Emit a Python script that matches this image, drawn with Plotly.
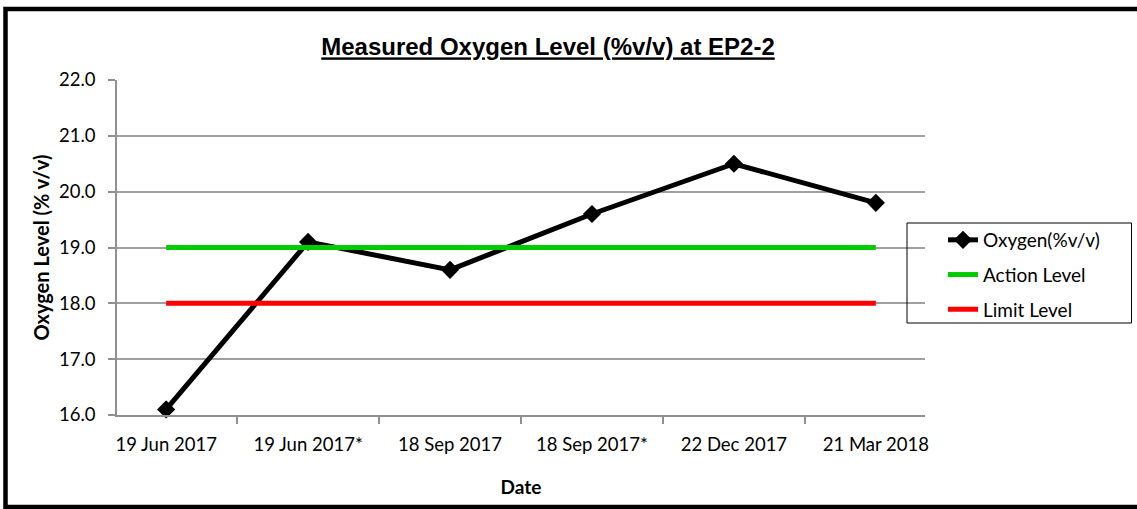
import plotly.graph_objects as go

dates = ["19 Jun 2017", "19 Jun 2017*", "18 Sep 2017", "18 Sep 2017*", "22 Dec 2017", "21 Mar 2018"]
oxygen = [16.1, 19.1, 18.6, 19.6, 20.5, 19.8]
action_level = [19.0] * len(dates)
limit_level = [18.0] * len(dates)

W, H = 1137, 509
L, R, T, B = 117, 212, 80, 94
pw, ph = W - L - R, H - T - B

def px_x(x):
    return (x - L) / pw

def px_y(y):
    return 1 - (y - T) / ph

fig = go.Figure()
fig.add_trace(go.Scatter(
    x=dates, y=oxygen, name="Oxygen(%v/v)", mode="lines+markers",
    line=dict(color="black", width=5),
    marker=dict(symbol="diamond", size=14, color="black"),
    legendgroup="a", cliponaxis=False,
))
fig.add_trace(go.Scatter(
    x=dates, y=action_level, name="Action Level", mode="lines",
    line=dict(color="#00CC00", width=5), legendgroup="b",
))
fig.add_trace(go.Scatter(
    x=dates, y=limit_level, name="Limit Level", mode="lines",
    line=dict(color="#FF0000", width=5), legendgroup="c",
))

font_main = "Lato, Carlito, 'Open Sans', sans-serif"

fig.update_layout(
    width=W, height=H,
    margin=dict(l=L, r=R, t=T, b=B, pad=0),
    paper_bgcolor="white", plot_bgcolor="white",
    font=dict(family=font_main, size=18.5, color="black"),
    title=dict(
        text="<b><u>Measured Oxygen Level (%v/v) at EP2-2</u></b>",
        x=px_x(548), xanchor="center", xref="paper",
        y=1 - 47 / H, yanchor="middle",
        font=dict(family="Liberation Sans, Arial, sans-serif", size=24, color="black"),
    ),
    showlegend=True,
    legend=dict(
        x=px_x(943), xanchor="left", y=px_y(221), yanchor="top",
        bgcolor="rgba(0,0,0,0)", borderwidth=0,
        traceorder="grouped", tracegroupgap=7,
        font=dict(family=font_main, size=19, color="black"),
    ),
    xaxis=dict(
        type="category", tickson="boundaries",
        showline=True, linecolor="#909090", linewidth=1.5,
        ticks="outside", ticklen=7, tickcolor="#909090", tickwidth=1.5,
        ticklabelstandoff=12,
        showgrid=False, zeroline=False,
        tickfont=dict(size=18.5, family=font_main),
        title=dict(text="<b>Date</b>", font=dict(size=19, family=font_main), standoff=27),
    ),
    yaxis=dict(
        range=[16, 22], dtick=1, tickformat=".1f",
        showline=True, linecolor="#909090", linewidth=1.5,
        ticks="outside", ticklen=7, tickcolor="#909090", tickwidth=1.5,
        ticklabelstandoff=9,
        showgrid=True, gridcolor="#A0A0A0", gridwidth=1.5,
        zeroline=False,
        tickfont=dict(size=18.5, family=font_main),
        title=dict(text="<b>Oxygen Level (% v/v)</b>", font=dict(size=20, family=font_main), standoff=4),
    ),
    shapes=[
        dict(type="rect", xref="paper", yref="paper",
             x0=px_x(5.5), x1=px_x(1145), y0=px_y(9), y1=px_y(507),
             line=dict(color="black", width=4.5), fillcolor="rgba(0,0,0,0)", layer="below"),
        dict(type="rect", xref="paper", yref="paper",
             x0=px_x(907), x1=px_x(1131.5), y0=px_y(223), y1=px_y(323),
             line=dict(color="black", width=1), fillcolor="rgba(0,0,0,0)"),
    ],
)

fig.write_html("out.html", config={"displayModeBar": False},
               post_script="document.body.style.margin='0px';document.body.style.overflow='hidden';")
